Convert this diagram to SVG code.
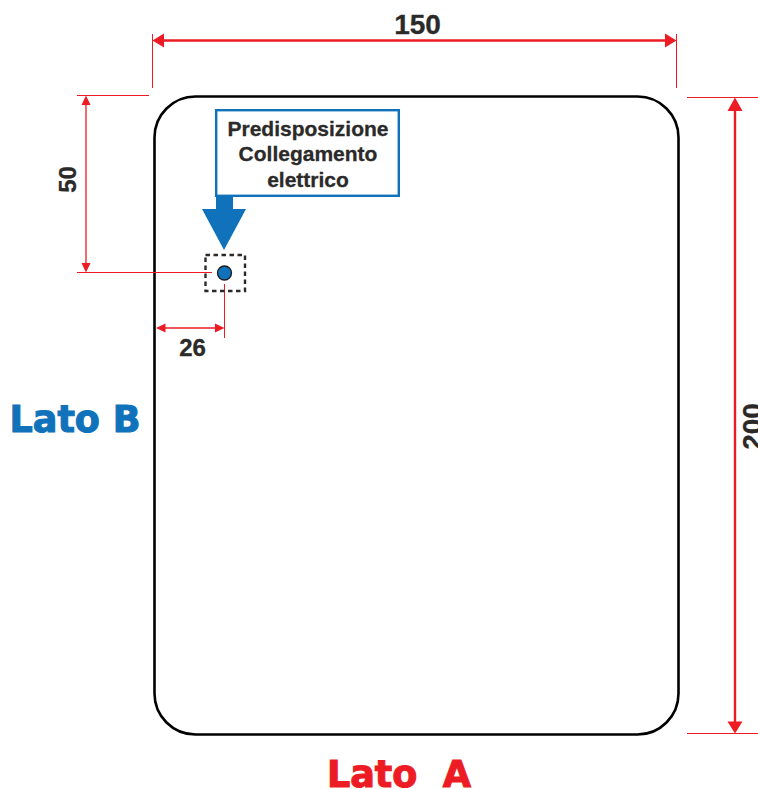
<svg xmlns="http://www.w3.org/2000/svg" width="758" height="789" viewBox="0 0 758 789">
<style>
text{font-family:"Liberation Sans",Arial,sans-serif;font-weight:700;fill:#2b2a29;text-anchor:middle;stroke:#2b2a29;stroke-width:.3px}
.big{font-family:"DejaVu Sans",sans-serif;font-size:36.500px;white-space:pre;stroke-width:1.100px}
.ext{stroke:#ed1c24;stroke-width:1;fill:none}
.dim{stroke:#ed1c24;fill:none}
.ah{fill:#ed1c24}
</style>
<rect width="758" height="789" fill="#fff"/>
<g id="panel"><rect x="154.500" y="96.500" width="524" height="638" rx="41" ry="41" fill="#fff" stroke="#000" stroke-width="2.600"/></g>
<g id="connectors">
<path class="ext" d="M152.500 34V88M676.500 34V88M687 97.500H758M687 733.500H758M77 95.500H149M77 272.500H212M224.500 284V338"/>
<path class="dim" stroke-width="2.400" d="M160 40.500H670M735 106V726"/>
<path class="dim" stroke-width="1.300" d="M86 102V266M162 328H218"/>
<path class="ah" d="M152.500 40.500L164 33.500V47.500ZM676.500 40.500L665 33.500V47.500ZM735 97.500L742.500 111H727.500ZM735 733.500L727.500 721.500H742.500ZM86 95.500L90.500 105H81.500ZM86 272.500L81.500 263H90.500ZM156 328L165.500 323.500V332.500ZM224.500 328L215 323.500V332.500Z"/>
</g>
<g id="callout">
<path d="M216 190H233V209H246L224 250L202 209H216Z" fill="#0f72ba"/>
<rect x="216.200" y="110.200" width="182.600" height="85.600" fill="#fff" stroke="#0f72ba" stroke-width="2.400"/>
<text x="308" y="136" font-size="21">Predisposizione</text>
<text x="308" y="161" font-size="21">Collegamento</text>
<text x="308" y="187" font-size="21">elettrico</text>
</g>
<g id="socket">
<rect x="205.500" y="255" width="39.500" height="36" fill="none" stroke="#2b2a29" stroke-width="2.400" stroke-dasharray="4.500 3.500"/>
<circle cx="224.500" cy="273" r="7" fill="#0f72ba" stroke="#1d1d1b" stroke-width="1.300"/>
</g>
<g id="labels">
<text x="417.500" y="34" font-size="28">150</text>
<text x="192.500" y="356" font-size="24">26</text>
<text transform="translate(76 179.500) rotate(-90)" font-size="24">50</text>
<text transform="translate(762 426.500) rotate(-90)" font-size="28">200</text>
<text class="big" x="75" y="432" style="fill:#0f72ba;stroke:#0f72ba">Lato B</text>
<text class="big" x="399" y="787" style="fill:#ed1c24;stroke:#ed1c24">Lato  A</text>
</g>
</svg>
